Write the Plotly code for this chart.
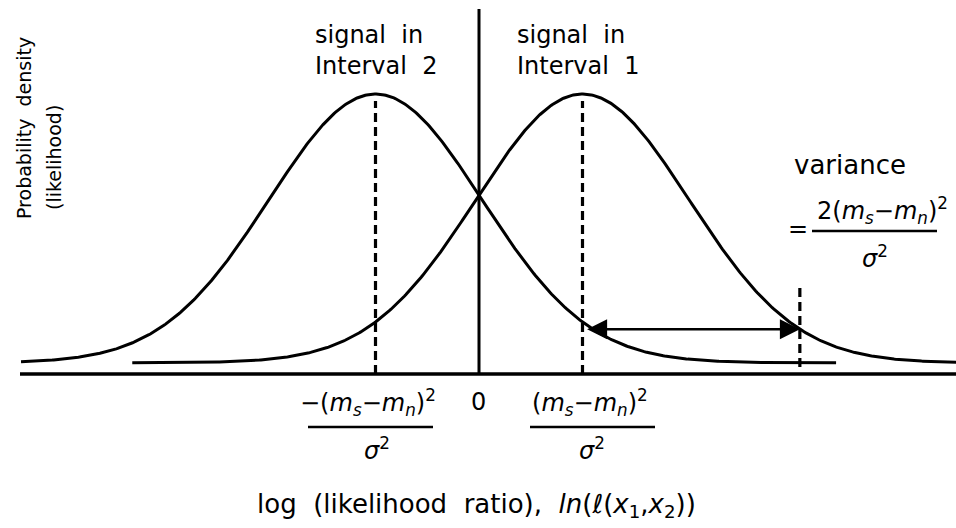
import numpy as np
import plotly.graph_objects as go

# Two equal-variance Gaussians of the log likelihood ratio
means = [-2.0, 2.0]          # -(ms-mn)^2/sigma^2 and +(ms-mn)^2/sigma^2
sd = 2.06                    # common standard deviation
peak = 0.96                  # peak height above the pedestal
pedestal = 0.04              # curves sit slightly above the axis
left_span = [-8.85, 6.9]     # x extent of the "signal in Interval 2" curve
right_span = [-6.7, 9.3]     # x extent of the "signal in Interval 1" curve
arrow_span = [2.06, 6.2]     # from the mean to the variance marker
variance_mark = 6.2
variance_mark_y = [0.025, 0.31]

W, H = 956, 528
PX_PER_X = 51.75
X0_PX = 479.0
Y0_PX = 374.0
PX_PER_Y = 280.0
x_range = [-X0_PX / PX_PER_X, (W - X0_PX) / PX_PER_X]
y_range = [-(H - Y0_PX) / PX_PER_Y, Y0_PX / PX_PER_Y]


def px(x):
    return x / W


def py(y):
    return 1 - y / H


def gauss(x, m):
    return pedestal + peak * np.exp(-0.5 * ((x - m) / sd) ** 2)


fig = go.Figure()
line_style = dict(color="black", width=3)

for m, span in zip(means, [left_span, right_span]):
    xs = np.linspace(span[0], span[1], 600)
    fig.add_trace(go.Scatter(x=xs, y=gauss(xs, m), mode="lines",
                             line=line_style, hoverinfo="skip",
                             showlegend=False))

# baseline and vertical axis through zero
fig.add_shape(type="line", x0=x_range[0] + 20 / PX_PER_X, x1=x_range[1],
              y0=0, y1=0, line=dict(color="black", width=3.5))
fig.add_shape(type="line", x0=0, x1=0, y0=0, y1=(Y0_PX - 9) / PX_PER_Y,
              line=dict(color="black", width=3))

# dashed lines at the means
for m in means:
    fig.add_shape(type="line", x0=m, x1=m, y0=0, y1=gauss(m, m) - 0.025,
                  line=dict(color="black", width=3.2, dash="9px,5px"))
fig.add_shape(type="line", x0=variance_mark, x1=variance_mark,
              y0=variance_mark_y[0], y1=variance_mark_y[1],
              line=dict(color="black", width=3.2, dash="9px,5px"))

# double headed arrow showing the spread
arrow_y = gauss(arrow_span[1], means[1])
fig.add_annotation(x=arrow_span[1], y=arrow_y, ax=arrow_span[0], ay=arrow_y,
                   xref="x", yref="y", axref="x", ayref="y", text="",
                   showarrow=True, arrowhead=2, startarrowhead=2,
                   arrowside="end+start", arrowsize=1.6, arrowwidth=2.5,
                   arrowcolor="black", standoff=0, startstandoff=0)

FONT = "DejaVu Sans"


def label(text, x, y, size=24, xanchor="center", angle=0):
    fig.add_annotation(text=text, x=px(x), y=py(y), xref="paper",
                       yref="paper", showarrow=False, xanchor=xanchor,
                       yanchor="middle", textangle=angle, align="left",
                       font=dict(family=FONT, size=size, color="black"))


def bar(x0, x1, y):
    fig.add_shape(type="line", xref="paper", yref="paper", x0=px(x0),
                  x1=px(x1), y0=py(y), y1=py(y),
                  line=dict(color="black", width=2.5))


diff_sq = ("(<i>m</i><sub><i>s</i></sub>\u2212<i>m</i><sub><i>n</i></sub>)"
           "<sup>2</sup>")
sigma_sq = "<i>\u03c3</i><sup>2</sup>"

# curve labels
label("signal\u00a0 in<br>Interval\u00a0 2", 313, 50, size=24, xanchor="left")
label("signal\u00a0 in<br>Interval\u00a0 1", 515, 50, size=24, xanchor="left")

# variance annotation
label("variance", 850, 165, size=26)
label("=", 798, 229)
label("2" + diff_sq, 882, 210)
bar(812, 937, 231)
label(sigma_sq, 875, 257)

# tick-style labels under the axis
label("\u2212" + diff_sq, 368, 402)
bar(308, 433, 427)
label(sigma_sq, 377, 449)
label("0", 478, 402)
label(diff_sq, 590, 402)
bar(530, 655, 427)
label(sigma_sq, 592, 449)

# axis titles
label("log\u00a0 (likelihood\u00a0 ratio),\u00a0 <i>ln</i>(<i>\u2113</i>(<i>x</i><sub>1</sub>,"
      "<i>x</i><sub>2</sub>))", 476, 505, size=26)
label("Probability\u00a0 density", 24, 128, size=19, angle=-90)
label("(likelihood)", 54, 158, size=19, angle=-90)

fig.update_layout(
    width=W, height=H, margin=dict(l=0, r=0, t=0, b=0),
    paper_bgcolor="white", plot_bgcolor="white",
    xaxis=dict(range=x_range, visible=False, fixedrange=True),
    yaxis=dict(range=y_range, visible=False, fixedrange=True),
    showlegend=False,
)

fig.write_html("out.html")
